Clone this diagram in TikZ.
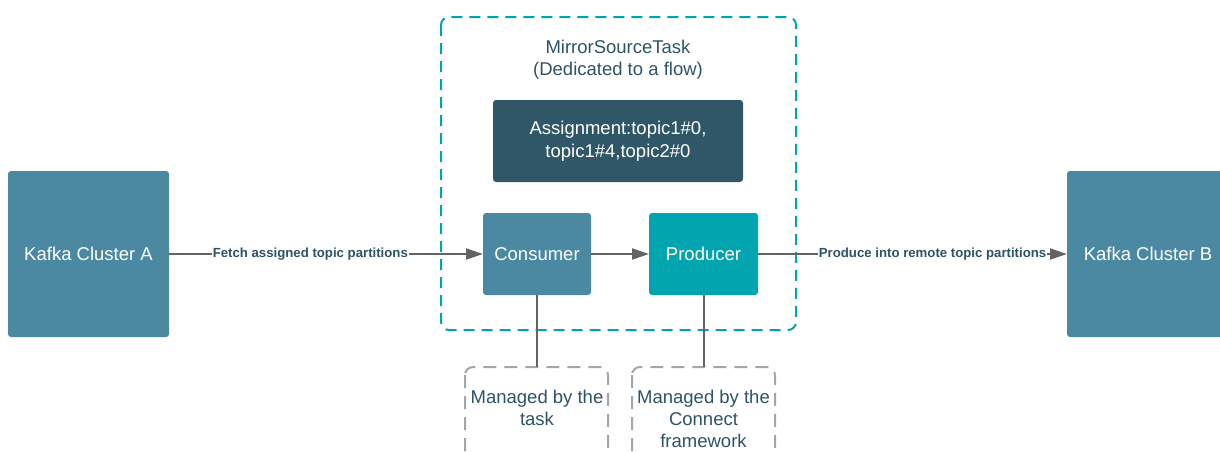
\documentclass[tikz,border=0pt]{standalone}
\usepackage{fontspec}
\setmainfont{Liberation Sans}
\usetikzlibrary{arrows.meta}
\definecolor{clusterblue}{RGB}{74,137,161}
\definecolor{prodteal}{RGB}{0,165,176}
\definecolor{assigndark}{RGB}{47,87,104}
\definecolor{slatetext}{RGB}{46,82,102}
\definecolor{dashteal}{RGB}{0,163,174}
\definecolor{dashgray}{RGB}{162,166,170}
\definecolor{arrowgray}{RGB}{100,100,100}
\tikzset{
  solidbox/.style={rounded corners=3pt, inner sep=0pt, outer sep=0pt, text=white, align=center, font=\fontsize{18.5}{22.5}\selectfont},
  flow/.style={draw=arrowgray, line width=2pt, -{Triangle[length=17pt,width=11pt]}},
  tie/.style={draw=arrowgray, line width=2pt},
  flowlabel/.style={fill=white, inner sep=1pt, text=slatetext, font=\bfseries\fontsize{13.2}{15}\selectfont},
  graytext/.style={text=slatetext, align=center, font=\fontsize{18.5}{22}\selectfont},
  taskframe/.style={draw=dashteal, line width=2pt, dash pattern=on 11pt off 7pt, rounded corners=8pt},
  notebox/.style={draw=dashgray, line width=2pt, dash pattern=on 13pt off 8pt, rounded corners=8pt},
}
\begin{document}
\begin{tikzpicture}[x=1pt,y=-1pt]
\useasboundingbox (0,0) rectangle (1220,451);
\clip (0,0) rectangle (1220,451);
% task frame
\draw[taskframe] (441,17) rectangle (796,330);
\node[graytext] (title) at (618,60) {MirrorSourceTask\\(Dedicated to a flow)};
% boxes
\node[solidbox, fill=clusterblue, minimum width=161pt, minimum height=166pt] (A) at (88.5,254) {Kafka Cluster A};
\node[solidbox, fill=clusterblue, minimum width=162pt, minimum height=166pt] (B) at (1148,254) {Kafka Cluster B};
\node[solidbox, fill=assigndark, minimum width=250pt, minimum height=82pt] (asg) at (618,141) {Assignment:topic1\#0,\\topic1\#4,topic2\#0};
\node[solidbox, fill=clusterblue, minimum width=108pt, minimum height=82pt] (cons) at (537,254) {Consumer};
\node[solidbox, fill=prodteal, minimum width=109pt, minimum height=82pt] (prod) at (703.5,254) {Producer};
% note boxes
\draw[notebox] (465,367) rectangle (608,480);
\draw[notebox] (632,367) rectangle (775,480);
\coordinate (n1) at (537,367);
\coordinate (n2) at (703.5,367);
\node[graytext] (t1) at (537,408) {Managed by the\\task};
\node[graytext] (t2) at (703.5,419) {Managed by the\\Connect\\framework};
% connectors
\draw[flow] (A) -- node[flowlabel, pos=0.45] {Fetch assigned topic partitions} (cons);
\draw[flow] (cons) -- (prod);
\draw[flow] (prod) -- node[flowlabel, pos=0.565] {Produce into remote topic partitions} (B);
\draw[tie] (cons) -- (n1);
\draw[tie] (prod) -- (n2);
\end{tikzpicture}
\end{document}
